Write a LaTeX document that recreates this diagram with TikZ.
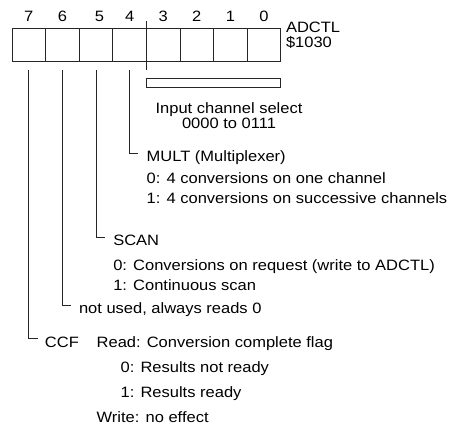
\documentclass[tikz,border=0pt]{standalone}
\usepackage{fontspec}
\setmainfont{Liberation Sans}[FakeStretch=1.1]
\begin{document}
\begin{tikzpicture}[x=1pt,y=-1pt,
  txt/.style={inner sep=0pt,outer sep=0pt,font=\fontsize{15}{18}\selectfont,text=black},
  lbl/.style={txt,anchor=base west},
  cell/.style={draw=black!85,line width=0.9pt,minimum width=33.6pt,minimum height=33.8pt,inner sep=0pt,outer sep=0pt},
  lead/.style={draw=black!85,line width=0.9pt}]
\useasboundingbox (0,0) rectangle (451,429);

% register cells, bit 7 on the left
\foreach \b/\x in {7/28.8,6/62.4,5/96.0,4/129.6,3/163.2,2/196.8,1/230.4,0/264.0}{
  \node[cell] (c\b) at (\x,45) {};
}
% bit numbers
\foreach \b/\x in {7/28.8,6/62.4,5/99.5,4/129.6,3/163.2,2/196.8,1/230.4,0/264.0}{
  \node[txt,anchor=base] (n\b) at (\x,21) {\b};
}
% register name and address
\node[lbl] (reg) at (286,32.8) {ADCTL};
\node[lbl] (addr) at (286,47.3) {\$1030};

% split between bits 4 and 3, and the channel-select bar
\coordinate (splitT) at (146.7,21);
\coordinate (splitB) at (146.7,70);
\draw[lead] (splitT) -- (splitB);
\node[draw=black!85,line width=0.9pt,minimum width=134pt,minimum height=9pt,inner sep=0pt] (bar) at (213.7,82.8) {};
\node[txt,anchor=base] (chsel) at (229,113) {Input channel select};
\node[txt,anchor=base] (chrng) at (229,128.5) {0000 to 0111};

% leader tops
\coordinate (l4) at (129.6,70);
\coordinate (l5) at (96.0,70);
\coordinate (l6) at (62.4,70);
\coordinate (l7) at (28.8,70);

% bit 4
\node[lbl] (mult) at (146.7,161) {MULT (Multiplexer)};
\node[lbl] (mult0) at (146.7,183) {0: 4 conversions on one channel};
\node[lbl] (mult1) at (146.7,203.5) {1: 4 conversions on successive channels};
\coordinate (k4) at (138,153.3);
\draw[lead] (l4) |- (k4);

% bit 5
\node[lbl] (scan) at (113.3,245.5) {SCAN};
\node[lbl] (scan0) at (113.3,270) {0: Conversions on request (write to ADCTL)};
\node[lbl] (scan1) at (113.3,290) {1: Continuous scan};
\coordinate (k5) at (104.5,237);
\draw[lead] (l5) |- (k5);

% bit 6
\node[lbl] (unused) at (79,313) {not used, always reads 0};
\coordinate (k6) at (71,305.5);
\draw[lead] (l6) |- (k6);

% bit 7
\node[lbl] (ccf) at (45,347) {CCF};
\node[lbl] (ccfr) at (96.7,347) {Read: Conversion complete flag};
\node[lbl] (ccf0) at (120.7,372) {0: Results not ready};
\node[lbl] (ccf1) at (120.7,397) {1: Results ready};
\node[lbl] (ccfw) at (96.7,422) {Write: no effect};
\coordinate (k7) at (37.5,338.5);
\draw[lead] (l7) |- (k7);
\end{tikzpicture}
\end{document}
